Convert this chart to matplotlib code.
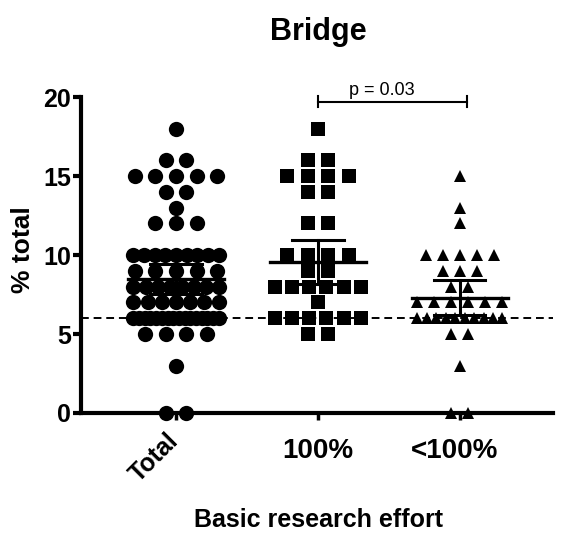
import numpy as np
import matplotlib
matplotlib.use('Agg')
import matplotlib.pyplot as plt

plt.rcParams['font.family'] = ['Liberation Sans', 'DejaVu Sans']

categories = ['Total', '100%', '<100%']

# values (% total), one entry per point
full_effort = [18, 16, 16, 15, 15, 15, 15, 14, 14, 12, 12,
               10, 10, 10, 10, 9, 9, 8, 8, 8, 8, 8, 8, 7,
               6, 6, 6, 6, 6, 6, 5, 5]
partial_effort = [15, 13, 12, 10, 10, 10, 10, 10, 9, 9, 9, 8, 8,
                  7, 7, 7, 7, 7, 7, 6, 6, 6, 6, 6, 6, 6, 6, 6, 6,
                  5, 5, 3, 0, 0]
total = full_effort + partial_effort

means = [8.5, 9.56, 7.3]
errors = [0.95, 1.4, 1.1]
reference_line = 6
p_text = 'p = 0.03'

groups = [total, full_effort, partial_effort]
markers = ['o', 's', '^']
sizes = [11, 9.5, 8.5]
steps = [0.145, 0.145, 0.12]

fig = plt.figure(figsize=(5.63, 5.37), dpi=100)
ax = fig.add_axes([0.144, 0.231, 0.838, 0.588])


def swarm(values, center, step=0.145, max_span=0.6):
    xs, ys = [], []
    vals = np.array(values)
    for v in sorted(set(values), reverse=True):
        n = int((vals == v).sum())
        s = step
        if n > 1 and (n - 1) * step > max_span:
            s = max_span / (n - 1)
        for i in range(n):
            xs.append(center + (i - (n - 1) / 2) * s)
            ys.append(v)
    return xs, ys


for i, vals in enumerate(groups):
    xs, ys = swarm(vals, i, steps[i])
    ax.plot(xs, ys, linestyle='none', marker=markers[i], markersize=sizes[i],
            color='black', markeredgewidth=0, clip_on=False, zorder=3)
    # mean line and error bar
    ax.plot([i - 0.34, i + 0.34], [means[i], means[i]], color='black', lw=2.4, zorder=4)
    ax.plot([i, i], [means[i] - errors[i], means[i] + errors[i]], color='black', lw=2.2, zorder=4)
    for y in (means[i] - errors[i], means[i] + errors[i]):
        ax.plot([i - 0.18, i + 0.18], [y, y], color='black', lw=2.2, zorder=4)

ax.axhline(reference_line, color='black', lw=1.4, ls=(0, (4, 2.5)), zorder=2, clip_on=False)

# significance bracket
ax.plot([1, 2.05], [19.7, 19.7], color='black', lw=1.5, clip_on=False)
for x in (1, 2.05):
    ax.plot([x, x], [19.35, 20.05], color='black', lw=1.5, clip_on=False)
ax.text(1.45, 19.9, p_text, ha='center', va='bottom', fontsize=13)

ax.set_xlim(-0.669, 2.655)
ax.set_ylim(0, 20)
ax.set_yticks([0, 5, 10, 15, 20])
ax.set_xticks([0, 1, 2])
ax.set_xticklabels([])
for s in ('top', 'right'):
    ax.spines[s].set_visible(False)
for s in ('left', 'bottom'):
    ax.spines[s].set_linewidth(3)
ax.tick_params(axis='y', length=6, width=3, labelsize=18, pad=1)
ax.tick_params(axis='x', length=5, width=2.5)
for lab in ax.get_yticklabels():
    lab.set_fontweight('bold')

ax.text(-0.07, -1.0, categories[0], rotation=45, ha='right', va='top',
        rotation_mode='anchor', fontsize=18, fontweight='bold')
ax.text(1, -1.6, categories[1], ha='center', va='top', fontsize=20, fontweight='bold')
ax.text(1.96, -1.6, categories[2], ha='center', va='top', fontsize=20, fontweight='bold')

fig.text(0.565, 0.94, 'Bridge', ha='center', va='center', fontsize=22, fontweight='bold')
fig.text(0.04, 0.535, '% total', rotation=90, ha='center', va='center',
         fontsize=19, fontweight='bold')
fig.text(0.565, 0.032, 'Basic research effort', ha='center', va='center',
         fontsize=18, fontweight='bold')

fig.savefig('out.png', dpi=100)
